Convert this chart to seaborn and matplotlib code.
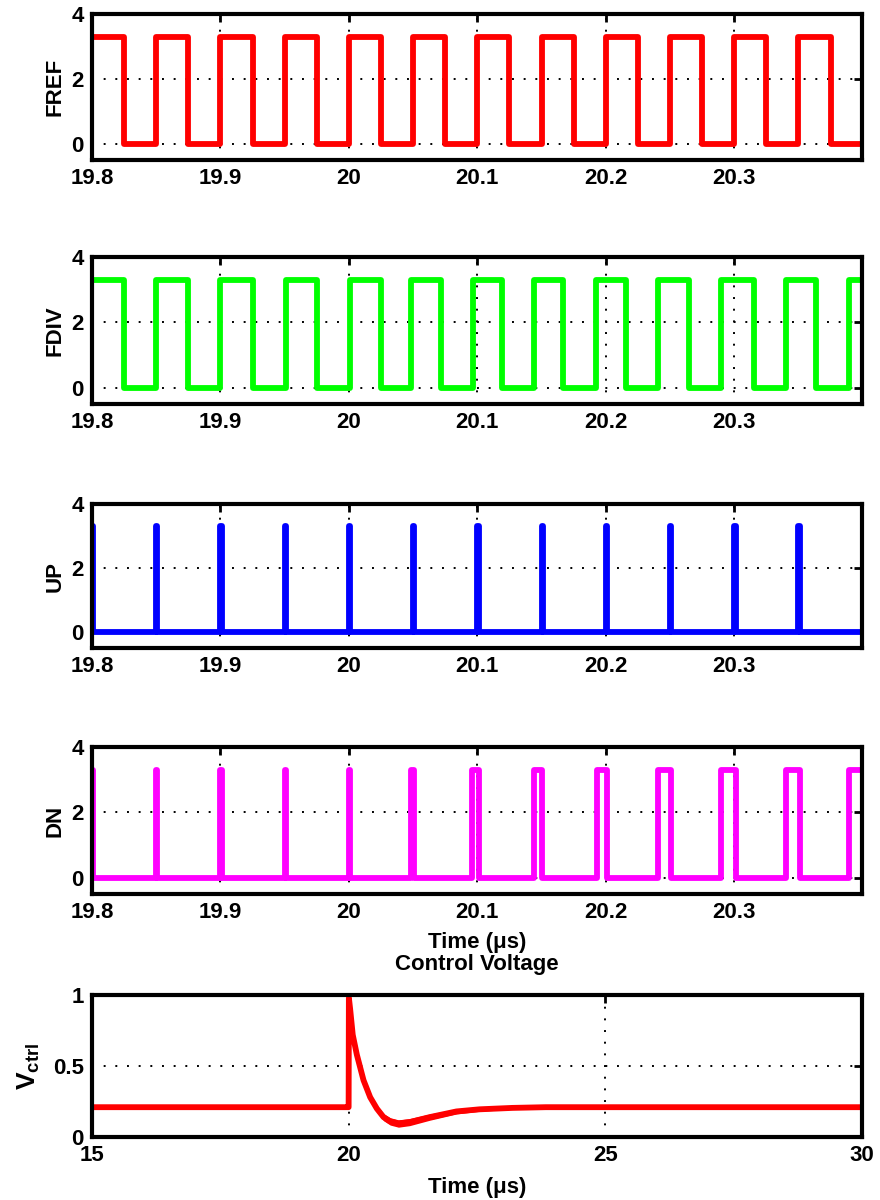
import numpy as np
import pandas as pd
import matplotlib
matplotlib.use("Agg")
import matplotlib.pyplot as plt
import seaborn as sns

# ---- data (times in us, levels in V) ----
t_end = 20.3994
vdd = 3.3

fref_rise = [19.800, 19.850, 19.900, 19.950, 20.000, 20.050, 20.100, 20.150, 20.200, 20.250, 20.300, 20.350]
fref_fall = [19.825, 19.875, 19.925, 19.975, 20.025, 20.075, 20.125, 20.175, 20.225, 20.275, 20.325, 20.375]

fdiv_rise = [19.800, 19.850, 19.900, 19.951, 20.001, 20.048, 20.097, 20.144, 20.192, 20.241, 20.290, 20.340, 20.389]
fdiv_fall = [19.825, 19.875, 19.925, 19.975, 20.025, 20.072, 20.119, 20.167, 20.216, 20.265, 20.315, 20.364]

up_rise = [19.800, 19.850, 19.900, 19.950, 20.000, 20.050, 20.100, 20.150, 20.200, 20.250, 20.300, 20.350]
up_fall = [19.801, 19.851, 19.901, 19.951, 20.001, 20.051, 20.101, 20.151, 20.201, 20.251, 20.301, 20.351]

dn_rise = [19.800, 19.850, 19.900, 19.950, 20.000, 20.048, 20.096, 20.144, 20.193, 20.241, 20.290, 20.340, 20.389]
dn_fall = [19.801, 19.851, 19.901, 19.951, 20.001, 20.051, 20.101, 20.150, 20.201, 20.251, 20.301, 20.351]

vctrl_t = [15.0, 19.99, 20.0, 20.005, 20.03, 20.08, 20.16, 20.29, 20.42, 20.55, 20.68, 20.81, 20.97,
           21.19, 21.58, 22.10, 22.55, 23.19, 23.84, 25.0, 30.0]
vctrl_v = [0.21, 0.21, 0.21, 0.98, 0.90, 0.72, 0.58, 0.40, 0.28, 0.20, 0.14, 0.11, 0.095,
           0.105, 0.14, 0.18, 0.195, 0.205, 0.21, 0.21, 0.21]
vctrl_ripple = [0.0, 0.0, 0.0, 0.0, 0.008, 0.014, 0.018, 0.02, 0.022, 0.024, 0.025, 0.026, 0.026,
                0.025, 0.022, 0.018, 0.014, 0.01, 0.007, 0.005, 0.005]

xticks_top = [19.8, 19.9, 20.0, 20.1, 20.2, 20.3]
xtick_labels_top = ["19.8", "19.9", "20", "20.1", "20.2", "20.3"]


def pulses(rise, fall):
    # build a step table from edge times (steps-post)
    t, v = [], []
    for i, r in enumerate(rise):
        t.append(r); v.append(vdd)
        if i < len(fall):
            t.append(fall[i]); v.append(0.0)
    t.append(t_end); v.append(v[-1])
    return pd.DataFrame({"t": t, "v": v})


sns.set_theme(style="white")
plt.rcParams["font.family"] = ["Liberation Sans", "DejaVu Sans"]
plt.rcParams["font.weight"] = "bold"
plt.rcParams["text.color"] = "black"
plt.rcParams["axes.labelcolor"] = "black"
plt.rcParams["mathtext.fontset"] = "custom"
plt.rcParams["mathtext.rm"] = "Liberation Sans:bold"
plt.rcParams["mathtext.bf"] = "Liberation Sans:bold"
plt.rcParams["mathtext.it"] = "Liberation Sans:bold"

fs = 16
fig = plt.figure(figsize=(8.8, 12), dpi=100)

left, width = 0.1045, 0.875
boxes = [(0.8667, 0.1217), (0.6633, 0.1225), (0.4600, 0.1200), (0.2550, 0.1225)]
signals = [("FREF", fref_rise, fref_fall, "#ff0000"),
           ("FDIV", fdiv_rise, fdiv_fall, "#00ff00"),
           ("UP", up_rise, up_fall, "#0000ff"),
           ("DN", dn_rise, dn_fall, "#ff00ff")]


def style_axes(ax):
    for s in ax.spines.values():
        s.set_linewidth(3)
        s.set_color("black")
    ax.tick_params(direction="in", top=True, right=True, length=6, width=2,
                   labelsize=fs, pad=6, colors="black")
    for lab in ax.get_xticklabels() + ax.get_yticklabels():
        lab.set_fontweight("bold")
    ax.grid(True, color="black", linestyle=(0, (1, 5)), linewidth=1.4)
    ax.set_axisbelow(True)


for (bottom, h), (name, rise, fall, col) in zip(boxes, signals):
    ax = fig.add_axes([left, bottom, width, h])
    df = pulses(rise, fall)
    sns.lineplot(data=df, x="t", y="v", ax=ax, color=col, linewidth=4.2,
                 drawstyle="steps-post", sort=False, estimator=None)
    ax.set_xlim(19.8, t_end)
    ax.set_ylim(-0.5, 4)
    ax.set_xticks(xticks_top)
    ax.set_xticklabels(xtick_labels_top)
    ax.set_yticks([0, 2, 4])
    ax.set_yticklabels(["0", "2", "4"])
    ax.set_ylabel(name, fontsize=fs, fontweight="bold", labelpad=4)
    ax.set_xlabel("")
    style_axes(ax)
    if name == "DN":
        ax.set_xlabel("Time (μs)", fontsize=fs, fontweight="bold", labelpad=6)

# control voltage
ax = fig.add_axes([left, 0.0525, width, 0.1183])
vdf = pd.DataFrame({"t": vctrl_t, "v": vctrl_v, "r": vctrl_ripple})
ax.fill_between(vdf["t"], vdf["v"] - vdf["r"], vdf["v"] + vdf["r"], color="#ff0000", linewidth=0)
sns.lineplot(data=vdf, x="t", y="v", ax=ax, color="#ff0000", linewidth=4.2,
             sort=False, estimator=None)
ax.set_xlim(15, 30)
ax.set_ylim(0, 1)
ax.set_xticks([15, 20, 25, 30])
ax.set_xticklabels(["15", "20", "25", "30"])
ax.set_yticks([0, 0.5, 1])
ax.set_yticklabels(["0", "0.5", "1"])
ax.set_title("Control Voltage", fontsize=fs, fontweight="bold", pad=18)
ax.set_xlabel("Time (μs)", fontsize=fs, fontweight="bold", labelpad=8)
ax.set_ylabel(r"$\mathbf{V_{ctrl}}$", fontsize=fs + 3, labelpad=8)
style_axes(ax)

fig.savefig("out.png", dpi=100, facecolor="white")
